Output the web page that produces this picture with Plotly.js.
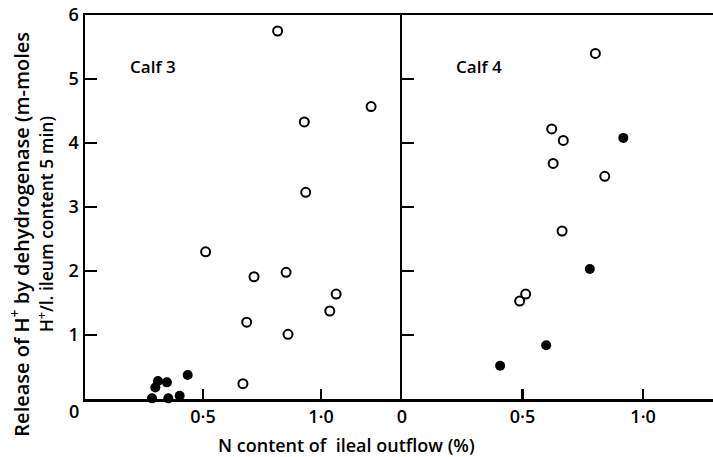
<!DOCTYPE html>
<html><head><meta charset="utf-8">
<script src="https://cdn.plot.ly/plotly-3.0.1.min.js"></script>
<style>html,body{margin:0;padding:0;background:#fff}</style>
</head><body><div id="chart" style="width:713px;height:457px"></div>
<script>
// Calf 3 (left panel)
const calf3OpenX = [0.816, 1.212, 0.929, 0.935, 0.511, 0.716, 0.852, 1.064, 1.037, 0.685, 0.860, 0.669];
const calf3OpenY = [5.75, 4.57, 4.33, 3.23, 2.30, 1.91, 1.98, 1.64, 1.375, 1.20, 1.01, 0.24];
const calf3FillX = [0.284, 0.298, 0.309, 0.347, 0.353, 0.401, 0.435];
const calf3FillY = [0.01, 0.18, 0.28, 0.26, 0.01, 0.05, 0.375];
// Calf 4 (right panel)
const calf4OpenX = [0.802, 0.621, 0.669, 0.627, 0.841, 0.664, 0.513, 0.488];
const calf4OpenY = [5.40, 4.22, 4.04, 3.68, 3.48, 2.625, 1.64, 1.53];
const calf4FillX = [0.918, 0.779, 0.598, 0.407];
const calf4FillY = [4.08, 2.03, 0.84, 0.52];

const yTicks = [1, 2, 3, 4, 5, 6];
const yTickText = ['1', '2', '3', '4', '5', '6'];
const xTicksLeft = [0.5, 1.0];
const xTickTextLeft = ['0·5', '1·0'];
const xTicksRight = [0, 0.5, 1.0];
const xTickTextRight = ['0', '0·5', '1·0'];

const FONT = '"Open Sans", Lato, sans-serif';
const W = 600;
const openM = {symbol: 'circle-open', size: 9, color: '#000', line: {width: 2, color: '#000'}};
const fillM = {symbol: 'circle', size: 10, color: '#000'};

const traces = [
  {x: calf3OpenX, y: calf3OpenY, xaxis: 'x', yaxis: 'y', mode: 'markers', marker: openM, cliponaxis: false},
  {x: calf3FillX, y: calf3FillY, xaxis: 'x', yaxis: 'y', mode: 'markers', marker: fillM, cliponaxis: false},
  {x: calf4OpenX, y: calf4OpenY, xaxis: 'x2', yaxis: 'y2', mode: 'markers', marker: openM, cliponaxis: false},
  {x: calf4FillX, y: calf4FillY, xaxis: 'x2', yaxis: 'y2', mode: 'markers', marker: fillM, cliponaxis: false}
];

const axisCommon = {showgrid: false, zeroline: false, showline: true, linecolor: '#000', linewidth: 2.5,
  ticks: 'inside', tickcolor: '#000', tickwidth: 2.5,
  tickfont: {family: FONT, size: 18, color: '#000', weight: W}};

function ann(text, xref, yref, x, y, size, angle) {
  return {text: text, xref: xref, yref: yref, x: x, y: y, xanchor: 'center', yanchor: 'middle',
    showarrow: false, textangle: angle || 0, font: {family: FONT, size: size, color: '#000', weight: W}};
}

const layout = {
  width: 713, height: 457,
  margin: {l: 85, r: 0, t: 15, b: 58},
  paper_bgcolor: '#fff', plot_bgcolor: '#fff',
  showlegend: false,
  font: {family: FONT, color: '#000'},
  xaxis: Object.assign({}, axisCommon, {domain: [0, 0.5048], range: [0, 1.343], mirror: true,
    tickmode: 'array', tickvals: xTicksLeft, ticktext: xTickTextLeft, ticklen: 10, anchor: 'y'}),
  xaxis2: Object.assign({}, axisCommon, {domain: [0.5048, 1], range: [0, 1.29], mirror: true,
    tickmode: 'array', tickvals: xTicksRight, ticktext: xTickTextRight, ticklen: 10, anchor: 'y2'}),
  yaxis: Object.assign({}, axisCommon, {range: [0, 6], anchor: 'x', tickmode: 'array',
    tickvals: yTicks, ticktext: yTickText, ticklen: 12}),
  yaxis2: Object.assign({}, axisCommon, {range: [0, 6], anchor: 'x2', tickmode: 'array',
    tickvals: yTicks, ticktext: yTickText, ticklen: 12, showticklabels: false}),
  annotations: [
    ann('Calf 3', 'x', 'y', 0.288, 5.19, 17),
    ann('Calf 4', 'x2', 'y2', 0.32, 5.19, 17),
    ann('0', 'paper', 'paper', -0.0175, -0.03, 18),
    ann('N content of  ileal outflow (%)', 'paper', 'paper', 0.417, -0.12, 18),
    ann('Release of H<sup>+</sup> by dehydrogenase (m-moles', 'paper', 'paper', -0.1035, 0.428, 20, -90),
    ann('H<sup>+</sup>/l. ileum content 5 min)', 'paper', 'paper', -0.0637, 0.455, 17.5, -90)
  ]
};

Plotly.newPlot('chart', traces, layout, {staticPlot: true, displayModeBar: false});
</script></body></html>
